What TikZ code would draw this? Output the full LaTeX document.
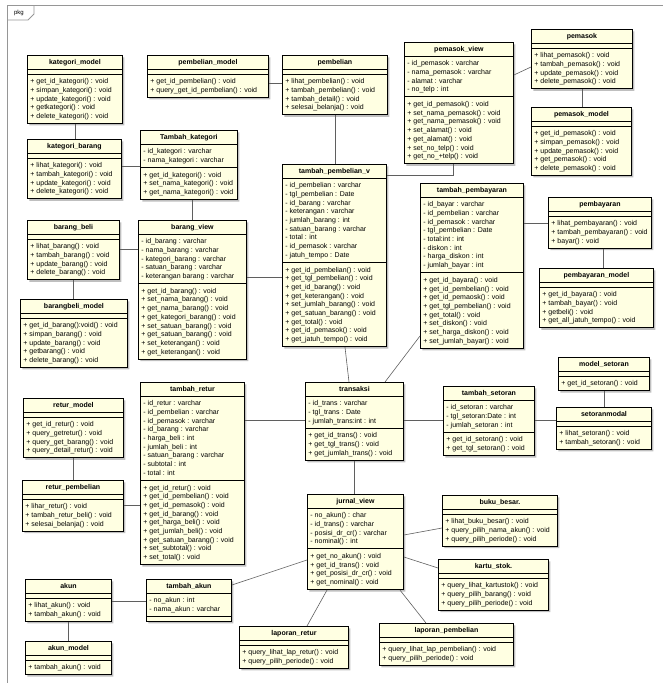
\documentclass[tikz,border=0pt]{standalone}
\usepackage{fontspec}
\setmainfont{Liberation Sans}
\usepackage{tikz}
\usetikzlibrary{shadows}
\usetikzlibrary{shapes.multipart}
\usetikzlibrary{calc}

\definecolor{classfill}{RGB}{255,255,226}
\definecolor{framegray}{RGB}{150,150,150}
\definecolor{linkgray}{RGB}{95,95,95}

\tikzstyle{classbox}=[rectangle split, rectangle split parts=3, rectangle split part align={center,left,left}, rectangle split empty part height=0pt, rectangle split empty part depth=0pt, draw=black, line width=0.9pt, fill=classfill, drop shadow={shadow xshift=2pt,shadow yshift=-2pt,fill=black!50,opacity=0.5}, inner xsep=3pt, inner ysep=2pt, font=\fontsize{7}{8.7}\selectfont, anchor=north west]
\tikzstyle{link} = [draw, linkgray, line width=0.6pt]

\newcommand{\clsrows}[1]{\begin{tabular}{@{}l@{}}\rule{0pt}{7.2pt}#1\rule[-2.2pt]{0pt}{0pt}\end{tabular}}
\newcommand{\clspart}[1]{\if\relax\detokenize{#1}\relax\rule{1pt}{0pt}\else\clsrows{#1}\fi}
\newcommand{\umlclass}[6]{% name, position, width, title, attributes, operations
  \node[classbox, minimum width=#3] (#1) at #2
    {\rule{0pt}{7pt}\textbf{#4}\rule[-1.7pt]{0pt}{0pt}\nodepart{second}\clspart{#5}\nodepart{third}\clspart{#6}};%
}

\begin{document}
\catcode`\_=12
\begin{tikzpicture}[x=1pt, y=-1pt]
\useasboundingbox (0,0) rectangle (663,683);
\clip (0,0) rectangle (663,683);

% package frame
\draw[framegray, line width=0.8pt] (663,5) -- (7,5) -- (7,683);
\draw[framegray, line width=0.8pt] (7,20) -- (28,20) -- (34,14) -- (34,5);
\node[font=\fontsize{6}{7}\selectfont, inner sep=0pt] (pkg) at (19,12.5) {pkg};

% kategori
\umlclass{katmodel}{(27,55)}{95pt}{kategori_model}{}{+ get_id_kategori() : void\\+ simpan_kategori() : void\\+ update_kategori() : void\\+ getkategori() : void\\+ delete_kategori() : void}
\umlclass{katbarang}{(27,139)}{94pt}{kategori_barang}{}{+ lihat_kategori() : void\\+ tambah_kategori() : void\\+ update_kategori() : void\\+ delete_kategori() : void}
\umlclass{tambahkat}{(140,130)}{97pt}{Tambah_kategori}{- id_kategori : varchar\\- nama_kategori : varchar}{+ get_id_kategori() : void\\+ set_nama_kategori() : void\\+ get_nama_kategori() : void}

% pembelian
\umlclass{pembmodel}{(147,55)}{121pt}{pembelian_model}{}{+ get_id_pembelian() : void\\+ query_get_id_pembelian() : void}
\umlclass{pembelian}{(282,55)}{105pt}{pembelian}{}{+ lihat_pembelian() : void\\+ tambah_pembelian() : void\\+ tambah_detail() : void\\+ selesai_belanja() : void}
\umlclass{tambahbeli}{(282,164)}{104pt}{tambah_pembelian_v}{- id_pembelian : varchar\\- tgl_pembelian : Date\\- id_barang : varchar\\- keterangan : varchar\\- jumlah_barang : int\\- satuan_barang : varchar\\- total : int\\- id_pemasok : varchar\\- jatuh_tempo : Date}{+ get_id_pembelian() : void\\+ get_tgl_pembelian() : void\\+ get_id_barang() : void\\+ get_keterangan() : void\\+ set_jumlah_barang() : void\\+ get_satuan_barang() : void\\+ get_total() : void\\+ get_id_pemasok() : void\\+ get_jatuh_tempo() : void}

% pemasok
\umlclass{pemview}{(404,42)}{109pt}{pemasok_view}{- id_pemasok : varchar\\- nama_pemasok : varchar\\- alamat : varchar\\- no_telp : int}{+ get_id_pemasok() : void\\+ set_nama_pemasok() : void\\+ get_nama_pemasok() : void\\+ set_alamat() : void\\+ get_alamat() : void\\+ set_no_telp() : void\\+ get_no_+telp() : void}
\umlclass{pemasok}{(531,29)}{101pt}{pemasok}{}{+ lihat_pemasok() : void\\+ tambah_pemasok() : void\\+ update_pemasok() : void\\+ delete_pemasok() : void}
\umlclass{pemmodel}{(531,107)}{100pt}{pemasok_model}{}{+ get_id_pemasok() : void\\+ simpan_pemasok() : void\\+ update_pemasok() : void\\+ get_pemasok() : void\\+ delete_pemasok() : void}

% barang
\umlclass{barangbeli}{(27,220)}{92pt}{barang_beli}{}{+ lihat_barang() : void\\+ tambah_barang() : void\\+ update_barang() : void\\+ delete_barang() : void}
\umlclass{bbmodel}{(20,299)}{107pt}{barangbeli_model}{}{+ get_id_barang():void() : void\\+ simpan_barang() : void\\+ update_barang() : void\\+ getbarang() : void\\+ delete_barang() : void}
\umlclass{barangview}{(138,220)}{108pt}{barang_view}{- id_barang : varchar\\- nama_barang : varchar\\- kategori_barang : varchar\\- satuan_barang : varchar\\- keterangan barang : varchar}{+ get_id_barang() : void\\+ set_nama_barang() : void\\+ get_nama_barang() : void\\+ get_kategori_barang() : void\\+ set_satuan_barang() : void\\+ get_satuan_barang() : void\\+ set_keterangan() : void\\+ get_keterangan() : void}

% pembayaran
\umlclass{tambahbayar}{(420,183)}{103pt}{tambah_pembayaran}{- id_bayar : varchar\\- id_pembelian : varchar\\- id_pemasok : varchar\\- tgl_pembelian : Date\\- total:int : int\\- diskon : int\\- harga_diskon : int\\- jumlah_bayar : int}{+ get_id_bayara() : void\\+ get_id_pembelian() : void\\+ get_id_pemaosk() : void\\+ get_tgl_pembelian() : void\\+ get_total() : void\\+ set_diskon() : void\\+ set_harga_diskon() : void\\+ set_jumlah_bayar() : void}
\umlclass{pembayaran}{(548,197)}{103pt}{pembayaran}{}{+ lihat_pembayaran() : void\\+ tambah_pembayaran() : void\\+ bayar() : void}
\umlclass{bayarmodel}{(539,268)}{114pt}{pembayaran_model}{}{+ get_id_bayara() : void\\+ tambah_bayar() : void\\+ getbeli() : void\\+ get_all_jatuh_tempo() : void}

% retur
\umlclass{returmodel}{(23,398)}{100pt}{retur_model}{}{+ get_id_retur() : void\\+ query_getretur() : void\\+ query_get_barang() : void\\+ query_detail_retur() : void}
\umlclass{returbeli}{(22,480)}{101pt}{retur_pembelian}{}{+ lihar_retur() : void\\+ tambah_retur_beli() : void\\+ selesai_belanja() : void}
\umlclass{tambahretur}{(140,382)}{104pt}{tambah_retur}{- id_retur : varchar\\- id_pembelian : varchar\\- id_pemasok : varchar\\- id_barang : varchar\\- harga_beli : int\\- jumlah_beli : int\\- satuan_barang : varchar\\- subtotal : int\\- total : int}{+ get_id_retur() : void\\+ get_id_pembelian() : void\\+ get_id_pemasok() : void\\+ get_id_barang() : void\\+ get_harga_beli() : void\\+ get_jumlah_beli() : void\\+ get_satuan_barang() : void\\+ set_subtotal() : void\\+ set_total() : void}

% transaksi & setoran
\umlclass{transaksi}{(305,382)}{98pt}{transaksi}{- id_trans : varchar\\- tgl_trans : Date\\- jumlah_trans:int : int}{+ get_id_trans() : void\\+ get_tgl_trans() : void\\+ get_jumlah_trans() : void}
\umlclass{tambahsetor}{(443,386)}{91pt}{tambah_setoran}{- id_setoran : varchar\\- tgl_setoran:Date : int\\- jumlah_setoran : int}{+ get_id_setoran() : void\\+ get_tgl_setoran() : void}
\umlclass{modelsetor}{(558,357)}{91pt}{model_setoran}{}{+ get_id_setoran() : void}
\umlclass{setormodal}{(556,407)}{95pt}{setoranmodal}{}{+ lihat_setoran() : void\\+ tambah_setoran() : void}

% jurnal & laporan
\umlclass{jurnal}{(307,494)}{96pt}{jurnal_view}{- no_akun() : char\\- id_trans() : varchar\\- posisi_dr_cr() : varchar\\- nominal() : int}{+ get_no_akun() : void\\+ get_id_trans() : void\\+ get_posisi_dr_cr() : void\\+ get_nominal() : void}
\umlclass{bukubesar}{(442,495)}{115pt}{buku_besar.}{}{+ lihat_buku_besar() : void\\+ query_pilih_nama_akun() : void\\+ query_pilih_periode() : void}
\umlclass{kartustok}{(438,559)}{110pt}{kartu_stok.}{}{+ query_lihat_kartustok() : void\\+ query_pilih_barang() : void\\+ query_pilih_periode() : void}
\umlclass{lapbeli}{(379,623)}{134pt}{laporan_pembelian}{}{+ query_lihat_lap_pembelian() : void\\+ query_pilih_periode() : void}
\umlclass{lapretur}{(239,626)}{109pt}{laporan_retur}{}{+ query_lihat_lap_retur() : void\\+ query_pilih_periode() : void}

% akun
\umlclass{akun}{(25,579)}{86pt}{akun}{}{+ lihat_akun() : void\\+ tambah_akun() : void}
\umlclass{akunmodel}{(25,641)}{86pt}{akun_model}{}{+ tambah_akun() : void}
\umlclass{tambahakun}{(146,579)}{85pt}{tambah_akun}{- no_akun : int\\- nama_akun : varchar}{}

% vertical links
\foreach \a/\b in {katmodel/katbarang, barangbeli/bbmodel, pembelian/tambahbeli, pemasok/pemmodel, returmodel/returbeli, transaksi/jurnal, akun/akunmodel, modelsetor/setormodal}
  \path[link] (\a.south) -- (\a.south |- \b.north);

% horizontal links
\foreach \a/\b/\y in {katbarang/tambahkat/166, barangbeli/barangview/249, barangview/tambahbeli/277, pembmodel/pembelian/83, tambahbayar/pembayaran/223, returbeli/tambahretur/505, akun/tambahakun/601, tambahretur/transaksi/420, transaksi/tambahsetor/420, tambahsetor/setormodal/420}
  \path[link] (\a.east |- 0,\y) -- (\b.west |- 0,\y);

% other links
\path[link] (tambahkat.south -| barangview.north) -- (barangview.north);
\path[link] (pemview.south -| 453,0) -- (453,175) -- (tambahbeli.east |- 0,175);
\path[link] (pemview.east |- 0,75) -- (pemasok.west |- 0,67);
\path[link] (pembayaran.south -| 603,0) -- (bayarmodel.north -| 603,0);
\path[link] (tambahbeli.south -| 345,0) -- (transaksi.north -| 349,0);
\path[link] (transaksi.north -| 385,0) -- (tambahbayar.west |- 0,336);
\path[link] (jurnal.west |- 0,560) -- (tambahakun.east |- 0,585);
\path[link] (jurnal.east |- 0,535) -- (bukubesar.west |- 0,528);
\path[link] (jurnal.east |- 0,557) -- (kartustok.west |- 0,568);
\path[link] (jurnal.south -| 327,0) -- (lapretur.north -| 307,0);
\path[link] (jurnal.south -| 400,0) -- (lapbeli.north -| 426,0);

\end{tikzpicture}
\end{document}
